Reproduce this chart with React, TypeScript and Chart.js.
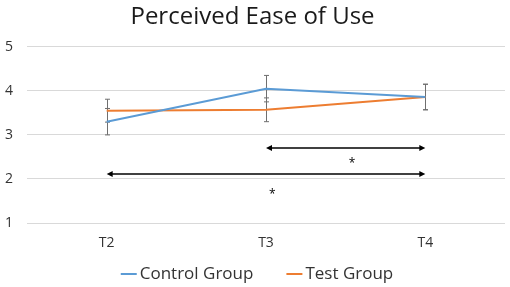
import React, { useEffect, useRef } from "react";
import { Chart, registerables } from "chart.js";

Chart.register(...registerables);

const categories = ["T2", "T3", "T4"];
const controlMeans = [3.3, 4.05, 3.86];
const controlErr = [0.3, 0.3, 0.29];
const testMeans = [3.55, 3.57, 3.86];
const testErr = [0.26, 0.27, 0.29];
const yTicks = [1, 2, 3, 4, 5];
// significance arrows: from/to category index, y value
const arrowFrom = [1, 0];
const arrowTo = [2, 2];
const arrowY = [2.7, 2.11];
// significance stars: category-index position, y value
const starX = [1.54, 1.04];
const starY = [2.39, 1.7];

const FONT = "'Open Sans', 'Noto Sans', sans-serif";

const overlayPlugin = {
  id: "overlay",
  beforeDatasetsDraw(chart: any) {
    const ctx = chart.ctx;
    const xs = chart.scales.x;
    const ys = chart.scales.y;
    ctx.save();
    ctx.strokeStyle = "#6f6f6f";
    ctx.lineWidth = 1;
    const groups = [
      [controlMeans, controlErr],
      [testMeans, testErr],
    ];
    groups.forEach(([m, e]) => {
      m.forEach((v: number, i: number) => {
        const x = Math.round(xs.getPixelForValue(i)) + 0.5;
        const y1 = ys.getPixelForValue(v - e[i]);
        const y2 = ys.getPixelForValue(v + e[i]);
        ctx.beginPath();
        ctx.moveTo(x, y1);
        ctx.lineTo(x, y2);
        ctx.moveTo(x - 2.5, y1);
        ctx.lineTo(x + 2.5, y1);
        ctx.moveTo(x - 2.5, y2);
        ctx.lineTo(x + 2.5, y2);
        ctx.stroke();
      });
    });
    ctx.restore();
  },
  afterDatasetsDraw(chart: any) {
    const ctx = chart.ctx;
    const xs = chart.scales.x;
    const ys = chart.scales.y;
    ctx.save();
    ctx.strokeStyle = "#000";
    ctx.fillStyle = "#000";
    ctx.lineWidth = 1.5;
    arrowFrom.forEach((f, i) => {
      const xa = xs.getPixelForValue(f);
      const xb = xs.getPixelForValue(arrowTo[i]);
      const y = ys.getPixelForValue(arrowY[i]);
      const head = 6;
      const hh = 3;
      ctx.beginPath();
      ctx.moveTo(xa + head - 1, y);
      ctx.lineTo(xb - head + 1, y);
      ctx.stroke();
      ctx.beginPath();
      ctx.moveTo(xa, y);
      ctx.lineTo(xa + head, y - hh);
      ctx.lineTo(xa + head, y + hh);
      ctx.closePath();
      ctx.fill();
      ctx.beginPath();
      ctx.moveTo(xb, y);
      ctx.lineTo(xb - head, y - hh);
      ctx.lineTo(xb - head, y + hh);
      ctx.closePath();
      ctx.fill();
    });
    ctx.font = `12px ${FONT}`;
    ctx.textAlign = "center";
    ctx.textBaseline = "middle";
    starX.forEach((sx, i) => {
      ctx.fillText("*", xs.getPixelForValue(sx), ys.getPixelForValue(starY[i]) + 2);
    });
    ctx.restore();
  },
  afterDraw(chart: any) {
    // legend with line markers
    const ctx = chart.ctx;
    ctx.save();
    ctx.font = `17px ${FONT}`;
    ctx.textBaseline = "middle";
    ctx.textAlign = "left";
    const lineW = 16;
    const gapText = 3;
    const gapItem = 33;
    const items = chart.data.datasets.map((d: any) => ({
      label: d.label,
      color: d.borderColor,
      w: lineW + gapText + ctx.measureText(d.label).width,
    }));
    const total = items.reduce((a: number, it: any) => a + it.w, 0) + gapItem * (items.length - 1);
    let x = 257 - total / 2;
    const y = 274;
    items.forEach((it: any) => {
      ctx.strokeStyle = it.color;
      ctx.lineWidth = 2;
      ctx.beginPath();
      ctx.moveTo(x, y);
      ctx.lineTo(x + lineW, y);
      ctx.stroke();
      ctx.fillStyle = "#333333";
      ctx.fillText(it.label, x + lineW + gapText, y);
      x += it.w + gapItem;
    });
    ctx.restore();
  },
};

export default function App() {
  const ref = useRef<HTMLCanvasElement>(null);
  useEffect(() => {
    document.body.style.margin = "0";
    const chart = new Chart(ref.current!, {
      type: "line",
      data: {
        labels: categories,
        datasets: [
          {
            label: "Control Group",
            data: controlMeans,
            borderColor: "#5B9BD5",
            backgroundColor: "#5B9BD5",
            borderWidth: 2,
            pointRadius: 0,
            tension: 0,
          },
          {
            label: "Test Group",
            data: testMeans,
            borderColor: "#ED7D31",
            backgroundColor: "#ED7D31",
            borderWidth: 2,
            pointRadius: 0,
            tension: 0,
          },
        ],
      },
      options: {
        animation: false,
        responsive: false,
        devicePixelRatio: 1,
        layout: { padding: { left: 0, right: 5, top: 0, bottom: 26 } },
        plugins: {
          title: {
            display: true,
            text: "Perceived Ease of Use",
            color: "#1a1a1a",
            font: { family: FONT, size: 24, weight: "normal" },
            padding: { top: 3, bottom: 15 },
          },
          legend: { display: false },
          tooltip: { enabled: false },
        },
        scales: {
          x: {
            offset: true,
            grid: { display: false },
            border: { display: false },
            ticks: { color: "#333333", font: { family: FONT, size: 14 }, padding: 4 },
            afterFit: (s: any) => {
              s.height = 38;
            },
          },
          y: {
            min: 1,
            max: 5,
            afterBuildTicks: (s: any) => {
              s.ticks = yTicks.map((v) => ({ value: v }));
            },
            afterFit: (s: any) => {
              s.width = 27;
            },
            grid: { color: "#d9d9d9", drawTicks: false },
            border: { display: false },
            ticks: { color: "#333333", font: { family: FONT, size: 14 }, padding: 14 },
          },
        },
      },
      plugins: [overlayPlugin],
    } as any);
    return () => chart.destroy();
  }, []);
  return <canvas ref={ref} width={510} height={287} style={{ display: "block" }} />;
}
